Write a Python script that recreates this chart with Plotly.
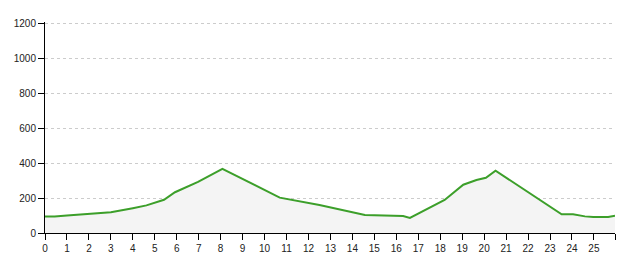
import plotly.graph_objects as go

# data
xs = [0, 0.44, 1, 2, 3, 4, 4.62, 5.42, 5.92, 6.97, 8.08, 10.69, 12.06, 12.5,
      14.57, 16.31, 16.62, 17.07, 18.2, 19.05, 19.65, 20.08, 20.52, 23.53,
      24.05, 24.59, 24.97, 25.65, 25.96]
ys = [95, 95, 100, 108, 118, 142, 158, 190, 233, 292, 367, 202, 171, 160,
      103, 97, 86, 114, 189, 276, 303, 316, 356, 107,
      107, 95, 91, 91, 99]
x_tick_vals = list(range(0, 26)) + [25.96]
x_tick_text = [str(i) for i in range(0, 26)] + [""]
y_tick_vals = [0, 200, 400, 600, 800, 1000, 1200]

fig = go.Figure()
fig.add_trace(go.Scatter(
    x=xs, y=ys, mode="lines", fill="tozeroy",
    fillcolor="#f4f4f4",
    line=dict(color="#3c9f2a", width=2),
    hoverinfo="skip",
))

font = dict(family="Liberation Sans, Arial, Helvetica, sans-serif", size=10, color="#222")

fig.update_layout(
    width=631, height=265,
    margin=dict(l=45, r=16, t=22, b=32),
    paper_bgcolor="white", plot_bgcolor="white",
    showlegend=False,
    font=font,
    xaxis=dict(
        range=[0, 25.96], tickvals=x_tick_vals, ticktext=x_tick_text,
        showgrid=False, zeroline=False,
        showline=True, linecolor="black", linewidth=1,
        ticks="outside", ticklen=6, tickcolor="black", tickwidth=1,
        tickfont=font,
    ),
    yaxis=dict(
        range=[0, 1206], tickvals=y_tick_vals,
        showgrid=True, gridcolor="#cccccc", griddash="3px,3px", gridwidth=1,
        zeroline=False,
        showline=True, linecolor="black", linewidth=1,
        ticks="outside", ticklen=6, tickcolor="black", tickwidth=1,
        tickfont=font,
    ),
)

fig.write_html("out.html")
